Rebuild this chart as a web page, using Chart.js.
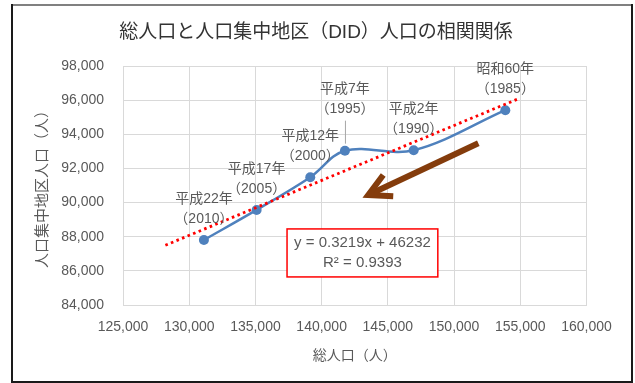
<!DOCTYPE html>
<html>
<head>
<meta charset="utf-8">
<script src="https://cdn.jsdelivr.net/npm/chart.js@4"></script>
<style>
    html, body { margin: 0; padding: 0; background: #fff; }
    #didChart { display: block; }
</style>
</head>
<body>
<canvas id="didChart" width="635" height="383"></canvas>
<script>
// 国勢調査年ごとの総人口とDID人口
const eraLabels = ['昭和60年', '平成2年', '平成7年', '平成12年', '平成17年', '平成22年'];
const yearLabels = ['（1985）', '（1990）', '（1995）', '（2000）', '（2005）', '（2010）'];
const totalPop = [153870, 146950, 141760, 139140, 135090, 131110];
const didPop = [95410, 93060, 93040, 91480, 89570, 87810];

// 軸目盛
const xTickValues = [125000, 130000, 135000, 140000, 145000, 150000, 155000, 160000];
const yTickValues = [84000, 86000, 88000, 90000, 92000, 94000, 96000, 98000];

// 線形近似（Excelの近似曲線）
const trendSlope = 0.3219;
const trendIntercept = 46232;
const trendFrom = 128200;
const trendTo = 154800;
const rSquared = 0.9393;

const FONT = '"Liberation Sans", "Noto Sans CJK JP", sans-serif';
const GRAY_TEXT = '#595959';

const trendPoints = [trendFrom, trendTo].map(x => ({ x: x, y: trendSlope * x + trendIntercept }));
const seriesPoints = totalPop.map((x, i) => ({ x: x, y: didPop[i] }));

// 背景と外枠、タイトル
const frame = {
    id: 'frame',
    beforeDraw(chart) {
        const ctx = chart.ctx;
        ctx.save();
        ctx.fillStyle = '#fff';
        ctx.fillRect(0, 0, chart.width, chart.height);
        ctx.restore();
    },
    afterDraw(chart) {
        const ctx = chart.ctx;
        ctx.save();
        ctx.lineWidth = 2;
        ctx.strokeStyle = '#808080';
        ctx.beginPath();
        ctx.moveTo(11, 5);
        ctx.lineTo(633, 5);
        ctx.stroke();
        ctx.strokeStyle = '#1a1a1a';
        ctx.beginPath();
        ctx.moveTo(12, 4);
        ctx.lineTo(12, 383);
        ctx.moveTo(632, 4);
        ctx.lineTo(632, 383);
        ctx.moveTo(11, 382);
        ctx.lineTo(633, 382);
        ctx.stroke();

        ctx.fillStyle = '#333';
        ctx.font = '19px ' + FONT;
        ctx.textAlign = 'center';
        ctx.textBaseline = 'middle';
        ctx.fillText('総人口と人口集中地区（DID）人口の相関関係', 316, 33);
        ctx.restore();
    }
};

// 各点の年次ラベル（平成7年だけ引き出し線付きで上にずらす）
const pointLabels = {
    id: 'pointLabels',
    afterDatasetsDraw(chart, args, opts) {
        const ctx = chart.ctx;
        const meta = chart.getDatasetMeta(1);
        ctx.save();
        ctx.font = '14px ' + FONT;
        ctx.fillStyle = GRAY_TEXT;
        ctx.textAlign = 'center';
        ctx.textBaseline = 'middle';
        meta.data.forEach((pt, i) => {
            const raised = yearLabels[i] === opts.raised;
            const lift = raised ? 21 : 0;
            if (raised) {
                ctx.strokeStyle = '#a6a6a6';
                ctx.lineWidth = 1;
                ctx.beginPath();
                ctx.moveTo(pt.x + 0.5, pt.y - 30);
                ctx.lineTo(pt.x + 0.5, pt.y - 7);
                ctx.stroke();
            }
            ctx.fillText(eraLabels[i], pt.x, pt.y - 41 - lift);
            ctx.fillText(yearLabels[i], pt.x, pt.y - 21 - lift);
        });
        ctx.restore();
    }
};

// 近似式の枠と矢印
const annotations = {
    id: 'annotations',
    afterDatasetsDraw(chart, args, opts) {
        const ctx = chart.ctx;
        const xs = chart.scales.x;
        const ys = chart.scales.y;
        ctx.save();

        // 矢印
        const tx = xs.getPixelForValue(opts.arrow.from[0]);
        const ty = ys.getPixelForValue(opts.arrow.from[1]);
        const hx = xs.getPixelForValue(opts.arrow.to[0]);
        const hy = ys.getPixelForValue(opts.arrow.to[1]);
        const back = Math.atan2(ty - hy, tx - hx);
        const spread = 28 * Math.PI / 180;
        const headLen = 25;
        ctx.strokeStyle = '#843c0c';
        ctx.lineWidth = 6;
        ctx.lineCap = 'butt';
        ctx.lineJoin = 'miter';
        ctx.beginPath();
        ctx.moveTo(tx, ty);
        ctx.lineTo(hx, hy);
        ctx.stroke();
        ctx.beginPath();
        ctx.moveTo(hx + headLen * Math.cos(back - spread), hy + headLen * Math.sin(back - spread));
        ctx.lineTo(hx, hy);
        ctx.lineTo(hx + headLen * Math.cos(back + spread), hy + headLen * Math.sin(back + spread));
        ctx.stroke();

        // 近似式
        const lines = [
            'y = ' + trendSlope + 'x + ' + trendIntercept,
            'R² = ' + rSquared
        ];
        ctx.font = '15px ' + FONT;
        const w = Math.max(...lines.map(l => ctx.measureText(l).width)) + 14;
        const h = 48;
        const cx = xs.getPixelForValue(opts.box[0]);
        const cy = ys.getPixelForValue(opts.box[1]);
        ctx.fillStyle = '#fff';
        ctx.fillRect(cx - w / 2, cy - h / 2, w, h);
        ctx.strokeStyle = '#ff0000';
        ctx.lineWidth = 1.5;
        ctx.strokeRect(cx - w / 2, cy - h / 2, w, h);
        ctx.fillStyle = GRAY_TEXT;
        ctx.textAlign = 'center';
        ctx.textBaseline = 'middle';
        ctx.fillText(lines[0], cx, cy - 10);
        ctx.fillText(lines[1], cx, cy + 10);
        ctx.restore();
    }
};

const numberFormat = v => v.toLocaleString('en-US');

new Chart(document.getElementById('didChart'), {
    type: 'scatter',
    data: {
        datasets: [
            {
                label: '線形近似',
                data: trendPoints,
                showLine: true,
                borderColor: '#ff0000',
                borderWidth: 2.8,
                borderDash: [2.6, 3.4],
                pointRadius: 0,
                tension: 0
            },
            {
                label: 'DID人口',
                data: seriesPoints,
                showLine: true,
                borderColor: '#4f81bd',
                backgroundColor: '#4f81bd',
                borderWidth: 2.5,
                pointRadius: 5,
                pointBorderWidth: 0,
                tension: 0.35
            }
        ]
    },
    options: {
        responsive: false,
        animation: false,
        devicePixelRatio: 1,
        layout: {
            padding: { top: 66, right: 48.5, left: 0, bottom: 0 }
        },
        scales: {
            x: {
                type: 'linear',
                min: xTickValues[0],
                max: xTickValues[xTickValues.length - 1],
                afterBuildTicks: axis => { axis.ticks = xTickValues.map(v => ({ value: v })); },
                afterFit: scale => { scale.height = 78; },
                grid: { color: '#d9d9d9', drawTicks: false },
                border: { color: '#d9d9d9' },
                ticks: {
                    padding: 14,
                    color: GRAY_TEXT,
                    font: { family: FONT, size: 14 },
                    callback: numberFormat
                },
                title: {
                    display: true,
                    text: '総人口（人）',
                    color: GRAY_TEXT,
                    font: { family: FONT, size: 14 },
                    padding: { top: 0, bottom: 18 }
                }
            },
            y: {
                type: 'linear',
                min: yTickValues[0],
                max: yTickValues[yTickValues.length - 1],
                afterBuildTicks: axis => { axis.ticks = yTickValues.map(v => ({ value: v })); },
                afterFit: scale => { scale.width = 123; },
                grid: { color: '#d9d9d9', drawTicks: false },
                border: { color: '#d9d9d9' },
                ticks: {
                    padding: 19,
                    color: GRAY_TEXT,
                    font: { family: FONT, size: 14 },
                    callback: numberFormat
                },
                title: {
                    display: true,
                    text: '人口集中地区人口（人）',
                    color: GRAY_TEXT,
                    font: { family: FONT, size: 15 },
                    padding: { top: 34, bottom: 0 }
                }
            }
        },
        plugins: {
            legend: { display: false },
            tooltip: { enabled: false },
            pointLabels: { raised: '（1995）' },
            annotations: {
                arrow: { from: [151830, 93470], to: [143520, 90440] },
                box: [143080, 87050]
            }
        }
    },
    plugins: [frame, annotations, pointLabels]
});
</script>
</body>
</html>
